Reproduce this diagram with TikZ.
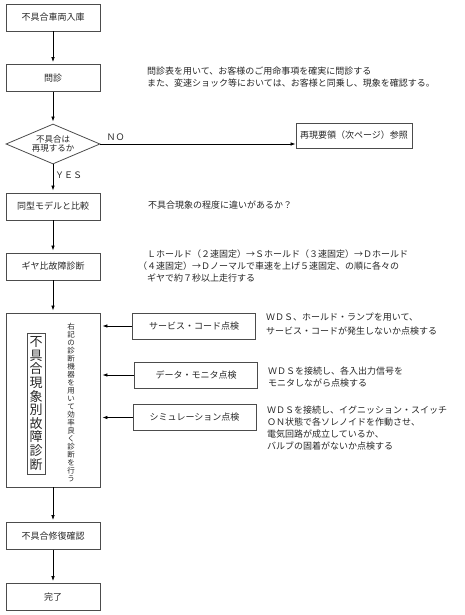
\documentclass[tikz,border=0pt]{standalone}
\usepackage{fontspec}
\setmainfont{Noto Sans CJK JP}
\usepackage{tikz}
\usetikzlibrary{arrows.meta,shapes.geometric,calc}

\begin{document}
\begin{tikzpicture}[x=1pt,y=1pt,
  every node/.style={font=\fontsize{9}{12}\selectfont, text=black!85},
  bx/.style={draw=black!70, line width=0.8pt, minimum width=94pt,
             minimum height=27pt, inner sep=0pt},
  sb/.style={bx, minimum width=123pt, minimum height=26pt},
  dm/.style={diamond, draw=black!70, line width=0.8pt, aspect=2.35,
             inner sep=0pt, minimum width=94pt, minimum height=40pt,
             align=center, font=\fontsize{8.5}{9}\selectfont},
  tx/.style={anchor=west, align=left, inner sep=0pt},
  ar/.style={-{Latex[length=5pt,width=3.5pt]}, line width=0.7pt,
             shorten >=2pt}]
  \useasboundingbox (0,0) rectangle (465,-615);
  % main column
  \node[bx] (a) at (53,-17.5) {不具合車両入庫};
  \node[bx] (b) at (53,-78) {問診};
  \node[dm] (c) at (53,-144) {不具合は\\再現するか};
  \node[bx, minimum width=116pt, minimum height=25pt] (r) at (354,-135.5)
    {再現要領（次ページ）参照};
  \node[bx] (d) at (53,-206.5) {同型モデルと比較};
  \node[bx] (e) at (53,-266.5) {ギヤ比故障診断};
  \node[bx, minimum height=174pt] (f) at (53,-400) {};
  \node[draw=black!70, line width=0.8pt, minimum width=18pt,
        minimum height=141pt, inner sep=0pt, align=center,
        font=\fontsize{13}{13.6}\selectfont] (f1) at (36,-403.5)
    {不\\具\\合\\現\\象\\別\\故\\障\\診\\断};
  \node[inner sep=0pt, align=center, font=\fontsize{7.5}{8.05}\selectfont]
    (f2) at (71,-402.5)
    {右\\記\\の\\診\\断\\機\\器\\を\\用\\い\\て\\効\\率\\良\\く\\診\\断\\を\\行\\う};
  \node[bx] (g) at (53,-536) {不具合修復確認};
  \node[bx] (h) at (53,-597) {完了};
  % checks
  \node[sb] (s1) at (194,-326) {サービス・コード点検};
  \node[sb] (s2) at (196,-375) {データ・モニタ点検};
  \node[sb] (s3) at (194.5,-417.5) {シミュレーション点検};
  % notes
  \node[tx] (tb) at (147,-77.5)
    {問診表を用いて、お客様のご用命事項を確実に問診する\\
     また、変速ショック等においては、お客様と同乗し、現象を確認する。};
  \node[tx] (td) at (148,-205) {不具合現象の程度に違いがあるか？};
  \node[tx] (te) at (147,-266)
    {Ｌホールド（２速固定）→Ｓホールド（３速固定）→Ｄホールド\\
     \hspace*{-9pt}（４速固定）→Ｄノーマルで車速を上げ５速固定、の順に各々の\\
     ギヤで約７秒以上走行する};
  \node[tx, font=\fontsize{9}{14}\selectfont] (t1) at (266,-324)
    {ＷＤＳ、ホールド・ランプを用いて、\\
     サービス・コードが発生しないか点検する};
  \node[tx] (t2) at (268,-377)
    {ＷＤＳを接続し、各入出力信号を\\
     モニタしながら点検する};
  \node[tx] (t3) at (267,-428)
    {ＷＤＳを接続し、イグニッション・スイッチ\\
     ＯＮ状態で各ソレノイドを作動させ、\\
     電気回路が成立しているか、\\
     バルブの固着がないか点検する};
  \node (no) at (115.5,-137) {ＮＯ};
  \node (yes) at (68.5,-175) {ＹＥＳ};
  % connectors
  \draw[ar] (a) -- (b);  \draw[ar] (b) -- (c);  \draw[ar] (c) -- (d);
  \draw[ar] (d) -- (e);  \draw[ar] (e) -- (f);  \draw[ar] (f) -- (g);
  \draw[ar] (g) -- (h);
  \draw[ar, shorten >=0pt] (c.east) -- (c.east -| r.west);
  \draw[ar] (s1.west) -- (s1.west -| f.east);
  \draw[ar] (s2.west) -- (s2.west -| f.east);
  \draw[ar] (s3.west) -- (s3.west -| f.east);
\end{tikzpicture}
\end{document}
